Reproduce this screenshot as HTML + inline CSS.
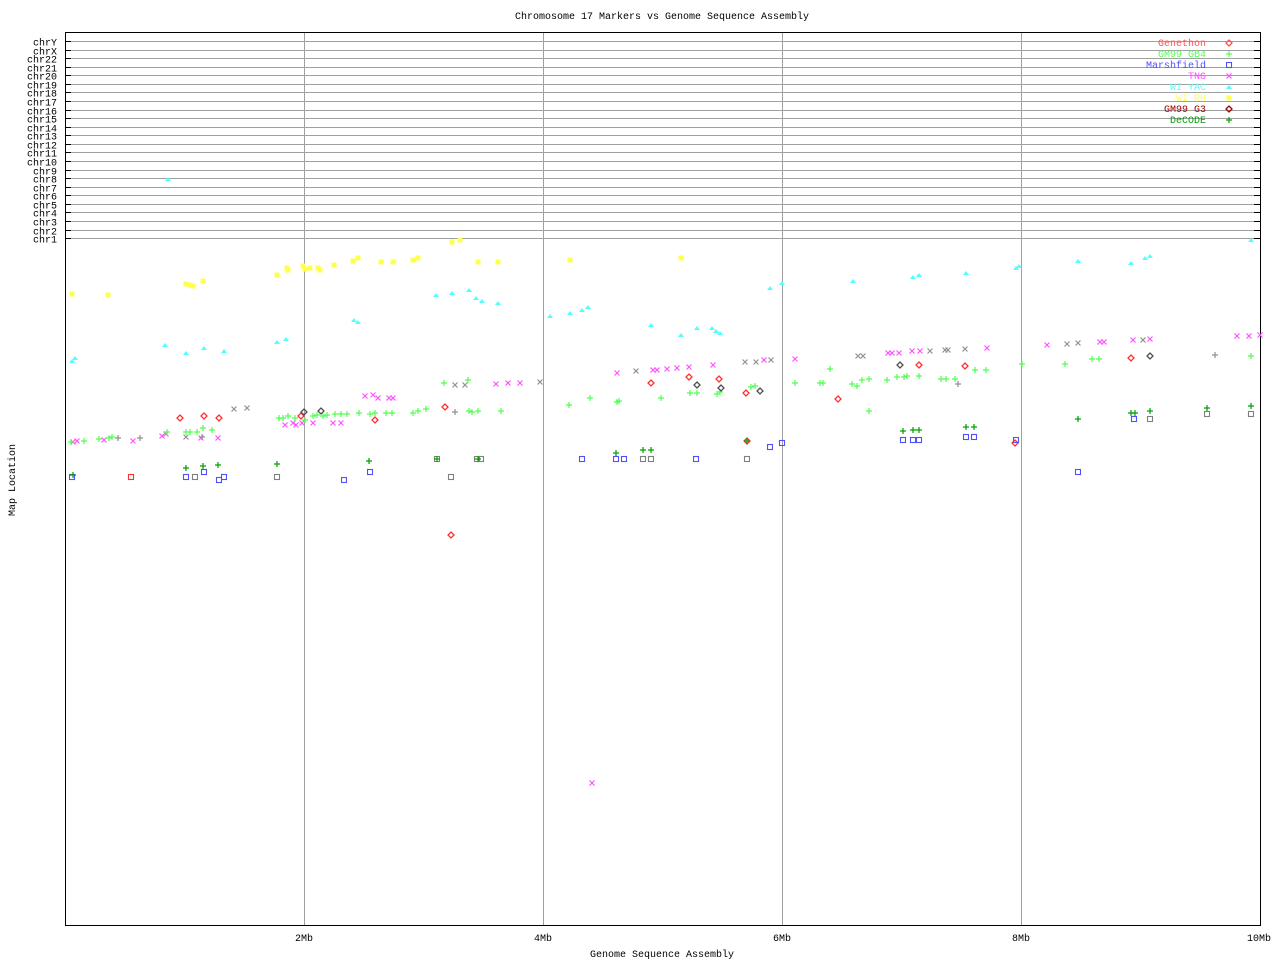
<!DOCTYPE html>
<html><head><meta charset="utf-8"><style>
body{margin:0;background:#fff}
svg text{font-family:"Liberation Mono",monospace;font-size:10px}
</style></head><body>
<svg id="s" width="1280" height="960" xmlns="http://www.w3.org/2000/svg">
<rect width="1280" height="960" fill="#fff"/>
<text x="662" y="19" text-anchor="middle">Chromosome 17 Markers vs Genome Sequence Assembly</text>
<g id="grid" stroke="#a0a0a0" stroke-width="1"></g>
<rect x="65.5" y="32.5" width="1195" height="893" fill="none" stroke="#000"/>
<g id="ax"></g>
<g id="pts"></g>
<text x="662" y="957" text-anchor="middle">Genome Sequence Assembly</text>
<text transform="translate(15,480) rotate(-90)" text-anchor="middle">Map Location</text>
</svg>
<script>
const NS="http://www.w3.org/2000/svg";
function el(p,t,a,txt){const e=document.createElementNS(NS,t);for(const k in a)e.setAttribute(k,a[k]);if(txt!==undefined)e.textContent=txt;p.appendChild(e);return e;}
const g=document.getElementById('grid'),ax=document.getElementById('ax'),P=document.getElementById('pts');
const chr=['chrY','chrX','chr22','chr21','chr20','chr19','chr18','chr17','chr16','chr15','chr14','chr13','chr12','chr11','chr10','chr9','chr8','chr7','chr6','chr5','chr4','chr3','chr2','chr1'];
chr.forEach((c,i)=>{const y=Math.round(41+i*8.57)+0.5;el(g,'line',{x1:66,x2:1260,y1:y,y2:y});el(ax,'line',{x1:66,x2:71,y1:y,y2:y,stroke:'#000'});el(ax,'line',{x1:1254,x2:1260,y1:y,y2:y,stroke:'#000'});el(ax,'text',{x:57,y:y+4,'text-anchor':'end'},c);});
[[304,'2Mb'],[543,'4Mb'],[782,'6Mb'],[1021,'8Mb'],[1259,'10Mb']].forEach(([x,l])=>{if(x<1259)el(g,'line',{x1:x+.5,x2:x+.5,y1:33,y2:925});el(ax,'text',{x:x,y:941,'text-anchor':'middle'},l);});
const leg=[['Genethon','#ff5050','d'],['GM99 GB4','#50ff50','p'],['Marshfield','#5050ff','s'],['TNG','#ff50ff','x'],['WI YAC','#50ffff','t'],['WI RH','#ffff50','a'],['GM99 G3','#a00000','d'],['DeCODE','#00a000','p']];
leg.forEach(([n,c,m],i)=>{const y=43+i*11;el(ax,'text',{x:1206,y:y+3,'text-anchor':'end',fill:c},n);mk(1229,y,m,c);});
function mk(x,y,m,c){
 if(m=='d')el(P,'path',{d:`M${x} ${y-3}L${x+3} ${y}L${x} ${y+3}L${x-3} ${y}Z`,fill:'none',stroke:c,'stroke-width':1.3});
 else if(m=='p')el(P,'path',{d:`M${x-3} ${y}H${x+3}M${x} ${y-3}V${y+3}`,stroke:c,'stroke-width':1.2});
 else if(m=='x')el(P,'path',{d:`M${x-2.5} ${y-2.5}L${x+2.5} ${y+2.5}M${x-2.5} ${y+2.5}L${x+2.5} ${y-2.5}`,stroke:c,'stroke-width':1.2});
 else if(m=='s')el(P,'rect',{x:x-2.5,y:y-2.5,width:5,height:5,fill:'none',stroke:c,'stroke-width':1.1});
 else if(m=='t')el(P,'path',{d:`M${x-3} ${y+2}L${x} ${y-2}L${x+3} ${y+2}Z`,fill:c});
 else if(m=='a'){el(P,'rect',{x:x-2.5,y:y-2.5,width:5,height:5,fill:c});}
}
const S={
a:['#ffff50',[[72,294],[108,295],[186,284],[190,285],[193,286],[203,281],[277,275],[287,268],[288,270],[303,266],[305,269],[310,268],[318,268],[320,270],[334,265],[353,261],[358,258],[381,262],[393,262],[413,260],[418,258],[452,242],[460,240],[478,262],[498,262],[570,260],[681,258]]],
t:['#50ffff',[[168,179],[72,361],[75,358],[165,345],[186,353],[204,348],[224,351],[277,342],[286,339],[354,320],[358,322],[436,295],[452,293],[469,290],[476,298],[482,301],[498,303],[550,316],[570,313],[582,310],[588,307],[651,325],[681,335],[697,328],[712,328],[716,331],[720,333],[770,288],[782,283],[853,281],[913,277],[919,275],[966,273],[1016,268],[1019,266],[1078,261],[1131,263],[1145,258],[1150,256],[1251,240]]],
x:['#ff50ff',[[73,442],[77,441],[104,440],[133,441],[162,436],[166,434],[201,438],[218,438],[285,425],[293,423],[296,425],[302,423],[313,423],[333,423],[341,423],[365,396],[373,395],[378,398],[389,398],[393,398],[496,384],[508,383],[520,383],[592,783],[617,373],[653,370],[657,370],[667,369],[677,368],[689,367],[713,365],[764,360],[795,359],[888,353],[892,353],[899,353],[912,351],[920,351],[987,348],[1047,345],[1100,342],[1104,342],[1133,340],[1150,339],[1237,336],[1249,336],[1260,335]]],
gx:['#909090',[[186,437],[234,409],[247,408],[455,385],[465,385],[540,382],[636,371],[745,362],[756,362],[771,360],[858,356],[863,356],[930,351],[945,350],[948,350],[965,349],[1067,344],[1078,343],[1143,340]]],
p:['#50ff50',[[71,442],[84,441],[99,439],[109,438],[112,437],[167,432],[186,432],[190,432],[197,432],[203,428],[212,430],[279,418],[283,418],[288,416],[295,418],[305,420],[313,416],[317,415],[323,416],[327,415],[335,414],[341,414],[347,414],[359,413],[370,414],[375,413],[386,413],[392,413],[413,413],[418,411],[426,409],[444,383],[468,380],[469,411],[472,412],[478,411],[501,411],[569,405],[590,398],[617,402],[619,401],[661,398],[690,393],[697,393],[717,394],[720,392],[751,387],[755,386],[795,383],[820,383],[823,383],[830,369],[852,384],[857,386],[862,380],[869,379],[869,411],[887,380],[897,377],[904,377],[907,376],[919,376],[941,379],[946,379],[955,379],[975,370],[986,370],[1022,364],[1065,364],[1092,359],[1099,359],[1251,356]]],
gp:['#909090',[[118,438],[140,438],[202,437],[455,412],[958,384],[1215,355]]],
d:['#ff3030',[[180,418],[204,416],[219,418],[301,416],[375,420],[445,407],[651,383],[689,377],[719,379],[746,393],[838,399],[919,365],[965,366],[1131,358],[451,535],[747,441],[1015,443]]],
gd:['#505050',[[304,412],[321,411],[697,385],[721,388],[760,391],[900,365],[1150,356]]],
s:['#5050ff',[[72,477],[186,477],[204,472],[219,480],[224,477],[344,480],[370,472],[582,459],[616,459],[624,459],[696,459],[770,447],[782,443],[903,440],[913,440],[919,440],[966,437],[974,437],[1016,440],[1078,472],[1134,419]]],
gs:['#808080',[[195,477],[277,477],[437,459],[451,477],[477,459],[481,459],[643,459],[651,459],[747,459],[1150,419],[1207,414],[1251,414]]],
rs:['#ff3030',[[131,477]]],
dp:['#00a000',[[73,475],[186,468],[203,466],[218,465],[277,464],[369,461],[437,459],[478,459],[616,453],[643,450],[651,450],[747,441],[903,431],[913,430],[919,430],[966,427],[974,427],[1078,419],[1131,413],[1135,413],[1150,411],[1207,408],[1251,406]]]
};
for(const k in S){const m=k.length>1?k[1]:k;const [c,arr]=S[k];arr.forEach(([x,y])=>mk(x,y,m,c));}
</script>
</body></html>
